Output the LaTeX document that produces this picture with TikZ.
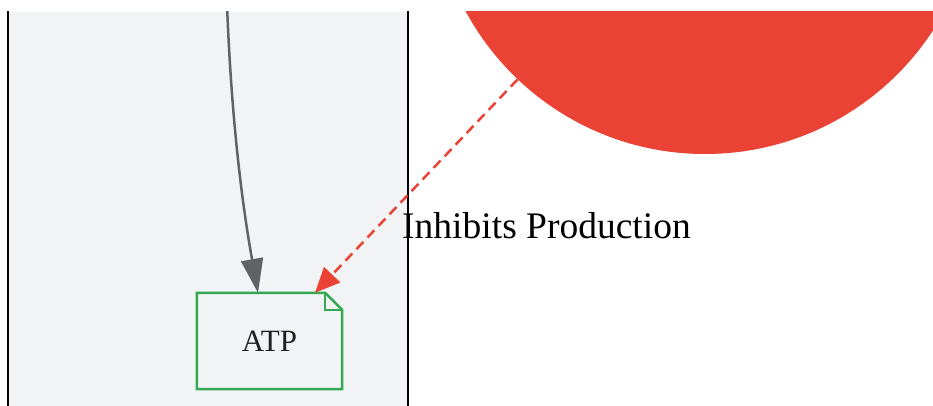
\documentclass[tikz,border=0pt]{standalone}
\usepackage{fontspec}
\setmainfont{Liberation Serif}
\usetikzlibrary{arrows.meta}
\definecolor{panelbg}{HTML}{F1F3F4}
\definecolor{gred}{HTML}{EA4335}
\definecolor{ggreen}{HTML}{34A853}
\definecolor{ggray}{HTML}{5F6368}
\definecolor{gtext}{HTML}{202124}
\tikzset{
  panelline/.style={draw=black, line width=2.5pt},
  docnode/.style={minimum width=145pt, minimum height=96pt, inner sep=0pt, text=gtext, font=\fontsize{31}{34}\selectfont},
  docedge/.style={draw=ggreen, line width=2.5pt, line join=miter},
  flowarrow/.style={draw=ggray, line width=2.5pt, -{Triangle[length=34pt, width=22pt]}},
  inhibarrow/.style={draw=gred, line width=2.5pt, dash pattern=on 10pt off 6pt, -{Triangle[length=25pt, width=22pt, fill=gred]}},
  edgelabel/.style={text=black, font=\fontsize{37.5}{40}\selectfont, inner sep=0pt}
}
\begin{document}
\begin{tikzpicture}[x=1pt, y=-1pt]
\useasboundingbox (0,0) rectangle (933,406);
\fill[white] (0,0) rectangle (933,406);
\begin{scope}
\clip (0,12) rectangle (933,406);
% panel
\fill[panelbg] (8,12) rectangle (408,406);
\draw[panelline] (8,0) -- (8,406);
\draw[panelline] (408,0) -- (408,406);
% inhibitor circle
\node[circle, fill=gred, minimum size=544pt, inner sep=0pt] (inhib) at (705,-118) {};
% ATP document node
\node[docnode] (atp) at (269.5,341) {\raisebox{-2pt}{ATP}};
\draw[docedge] (atp.south west) -- (atp.north west) -- ([xshift=-17pt]atp.north east) -- ([yshift=-17pt]atp.north east) -- (atp.south east) -- cycle;
\draw[docedge] ([xshift=-17pt]atp.north east) -- ([xshift=-17pt,yshift=-17pt]atp.north east) -- ([yshift=-17pt]atp.north east);
% flow arrow from above
\coordinate (src) at (226.5,-10);
\coordinate (atpin) at ([xshift=-11.5pt]atp.north);
\draw[flowarrow] (src) .. controls (231,130) and (245,220) .. (atpin);
% inhibition arrow
\coordinate (inhibin) at ([xshift=45.5pt]atp.north);
\draw[inhibarrow] (inhib) -- (inhibin);
\node[edgelabel] (lbl) at (546.5,226) {Inhibits Production};
\end{scope}
\end{tikzpicture}
\end{document}
